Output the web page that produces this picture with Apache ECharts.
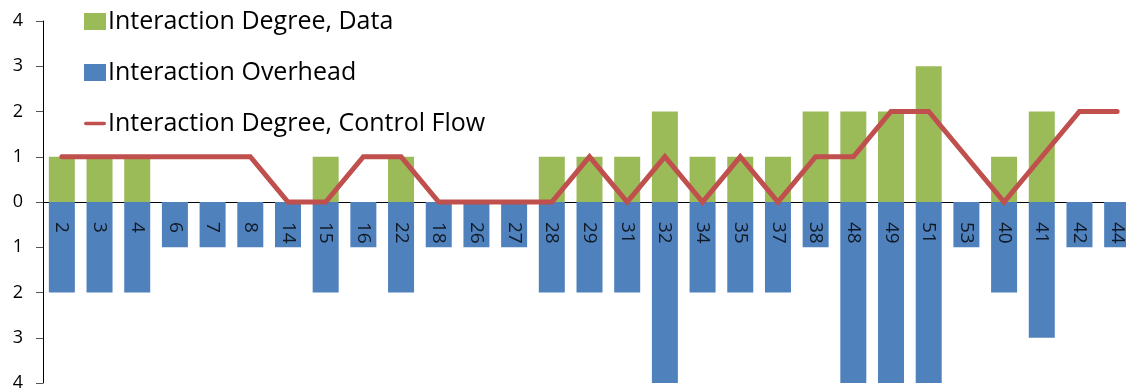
<!DOCTYPE html>
<html>
<head>
<meta charset="utf-8">
<script src="https://cdn.jsdelivr.net/npm/echarts@6/dist/echarts.min.js"></script>
<style>
  html, body { margin: 0; padding: 0; background: #fff; }
  #chart { width: 1126px; height: 390px; }
</style>
</head>
<body>
<div id="chart"></div>
<script>
// Interaction measures per component id
const categories = ['2','3','4','6','7','8','14','15','16','22','18','26','27','28','29','31','32','34','35','37','38','48','49','51','53','40','41','42','44'];
const degreeData = [1,1,1,0,0,0,0,1,0,1,0,0,0,1,1,1,2,1,1,1,2,2,2,3,0,1,2,0,0];
const overhead   = [-2,-2,-2,-1,-1,-1,-1,-2,-1,-2,-1,-1,-1,-2,-2,-2,-4,-2,-2,-2,-1,-4,-4,-4,-1,-2,-3,-1,-1];
const degreeControl = [1,1,1,1,1,1,0,0,1,1,0,0,0,0,1,0,1,0,1,0,1,1,2,2,1,0,1,2,2];
const yTicks = [-4,-3,-2,-1,0,1,2,3,4];

const FONT = 'Open Sans';
const chart = echarts.init(document.getElementById('chart'));

chart.setOption({
  animation: false,
  backgroundColor: '#ffffff',
  textStyle: { fontFamily: FONT },
  legend: {
    orient: 'vertical',
    left: 84,
    top: 9,
    padding: 0,
    itemGap: 26,
    itemWidth: 22,
    itemHeight: 17,
    textStyle: { fontFamily: FONT, fontSize: 25, color: '#000', padding: [0, 0, 0, -3] },
    data: [
      { name: 'Interaction Degree, Data', icon: 'rect' },
      { name: 'Interaction Overhead', icon: 'rect' },
      { name: 'Interaction Degree, Control Flow', icon: 'path://M2,0 L22,0 A2,2 0 0 1 22,4 L2,4 A2,2 0 0 1 2,0 Z' }
    ]
  },
  grid: { left: 43, top: 21, width: 1093, height: 362, containLabel: false, outerBoundsMode: 'none' },
  xAxis: {
    type: 'category',
    data: categories,
    axisLine: { onZero: true, lineStyle: { color: '#000', width: 1 } },
    axisTick: { show: false },
    axisLabel: { show: false }
  },
  yAxis: {
    type: 'value',
    min: yTicks[0],
    max: yTicks[yTicks.length - 1],
    interval: 1,
    splitLine: { show: false },
    axisLine: { show: true, lineStyle: { color: '#000', width: 1 } },
    axisTick: { show: true, length: 7, lineStyle: { color: '#555' } },
    axisLabel: {
      margin: 20,
      fontFamily: FONT,
      fontSize: 18,
      color: '#000',
      formatter: v => String(Math.abs(v))
    }
  },
  series: [
    {
      name: 'Interaction Degree, Data',
      type: 'bar',
      data: degreeData,
      barWidth: 26,
      barGap: '-100%',
      itemStyle: { color: '#9BBB59' }
    },
    {
      name: 'Interaction Overhead',
      type: 'bar',
      data: overhead,
      barWidth: 26,
      barGap: '-100%',
      itemStyle: { color: '#4F81BD' }
    },
    {
      name: 'Interaction Degree, Control Flow',
      type: 'line',
      data: degreeControl,
      symbol: 'none',
      z: 5,
      itemStyle: { color: '#C0504D' },
      lineStyle: { color: '#C0504D', width: 5, cap: 'round', join: 'miter' }
    },
    {
      // category ids written vertically just under the zero line
      name: 'ids',
      type: 'scatter',
      data: categories.map(c => [c, 0]),
      symbolSize: 0,
      silent: true,
      z: 6,
      label: {
        show: true,
        formatter: p => p.value[0],
        position: [0, 20],
        rotate: -90,
        align: 'left',
        verticalAlign: 'middle',
        fontFamily: FONT,
        fontSize: 19,
        color: '#000'
      }
    }
  ]
});
</script>
</body>
</html>
